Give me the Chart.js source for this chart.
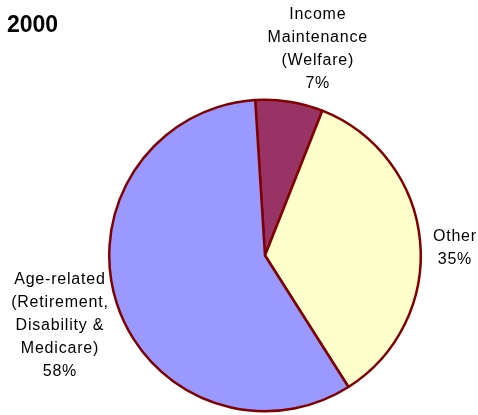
<!DOCTYPE html>
<html>
<head>
<meta charset="utf-8">
<script src="https://cdn.jsdelivr.net/npm/chart.js@4.4.0/dist/chart.umd.min.js"></script>
<style>
  html, body { margin: 0; padding: 0; background: #fff; }
  #wrap { width: 478px; height: 415px; position: relative; }
</style>
</head>
<body>
<div id="wrap"><canvas id="pie"></canvas></div>
<script>
const chartTitle = '2000';
const categories = [
  ['Income', 'Maintenance', '(Welfare)'],
  ['Other'],
  ['Age-related', '(Retirement,', 'Disability &', 'Medicare)']
];
const shares = [7, 35, 58];
const sliceColors = ['#993366', '#FFFFCC', '#9999FF'];

// small hand nudges for the outside labels (px)
const labelNudge = [[19, 3], [3, 10], [-1, 1]];

// labels outside the pie, placed along each slice's middle angle
const outsideLabels = {
  id: 'outsideLabels',
  afterDraw(chart) {
    const ctx = chart.ctx;
    const meta = chart.getDatasetMeta(0);
    const lh = 23;
    ctx.save();
    ctx.fillStyle = '#000';
    ctx.font = '16px "Liberation Sans", Arial, sans-serif';
    ctx.letterSpacing = '0.8px';
    ctx.textAlign = 'center';
    ctx.textBaseline = 'middle';
    meta.data.forEach((arc, i) => {
      const lines = categories[i].concat([shares[i] + '%']);
      const mid = (arc.startAngle + arc.endAngle) / 2;
      const r = arc.outerRadius + 10;
      const ax = arc.x + Math.cos(mid) * r;
      const ay = arc.y + Math.sin(mid) * r;
      let w = 0;
      lines.forEach(l => { w = Math.max(w, ctx.measureText(l).width); });
      const hw = w / 2, hh = lines.length * lh / 2;
      const cx = ax + Math.cos(mid) * hw + labelNudge[i][0];
      const cy = ay + Math.sin(mid) * hh + labelNudge[i][1];
      lines.forEach((l, k) => {
        ctx.fillText(l, cx, cy - hh + lh / 2 + k * lh);
      });
    });
    // title
    ctx.letterSpacing = '0px';
    ctx.textAlign = 'left';
    ctx.textBaseline = 'alphabetic';
    ctx.font = 'bold 23px "Liberation Sans", Arial, sans-serif';
    ctx.fillText(chartTitle, 7, 32);
    ctx.restore();
  }
};

new Chart(document.getElementById('pie'), {
  type: 'pie',
  data: {
    labels: categories.map(c => c.join(' ')),
    datasets: [{
      data: shares,
      backgroundColor: sliceColors,
      borderColor: '#800000',
      borderWidth: 2.5
    }]
  },
  options: {
    responsive: true,
    maintainAspectRatio: false,
    animation: false,
    rotation: -3.6,
    layout: { padding: { left: 108, right: 56, top: 98, bottom: 2 } },
    plugins: {
      legend: { display: false },
      tooltip: { enabled: false }
    }
  },
  plugins: [outsideLabels]
});
</script>
</body>
</html>
